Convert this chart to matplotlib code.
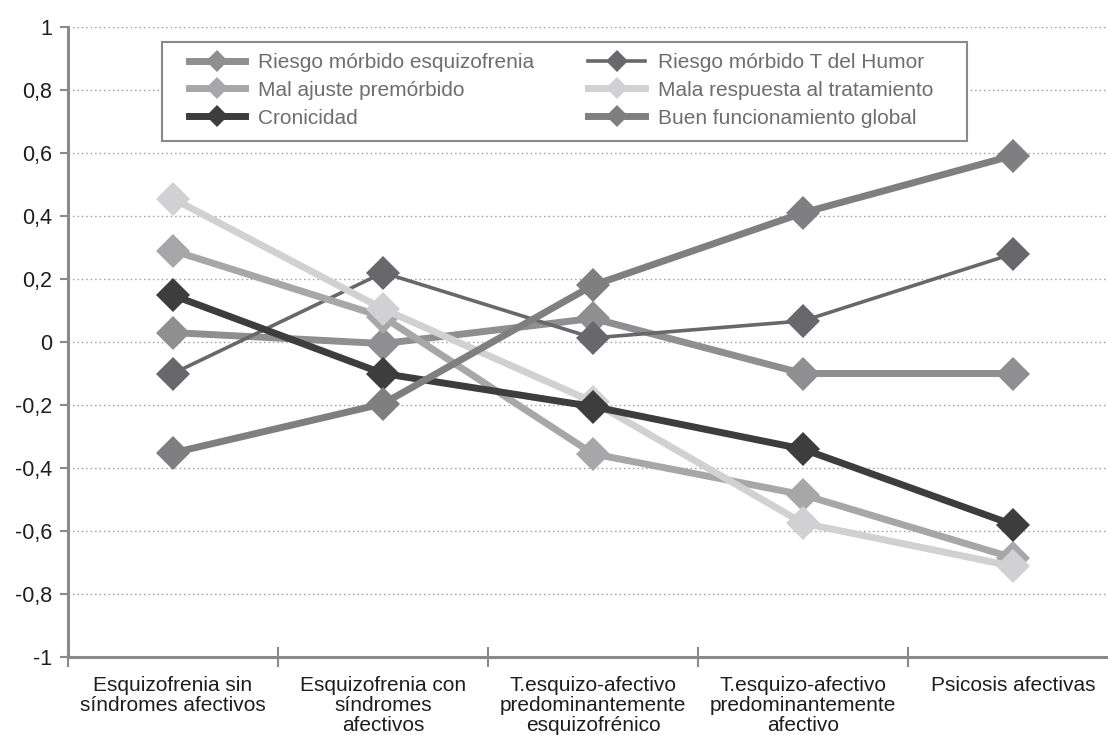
import matplotlib
matplotlib.use("Agg")
import matplotlib.pyplot as plt
from matplotlib.patches import Rectangle
from matplotlib.ticker import FixedLocator, NullFormatter, FuncFormatter

plt.rcParams['font.family'] = ['Liberation Sans', 'DejaVu Sans']

categories = [
    "Esquizofrenia sin\nsíndromes afectivos",
    "Esquizofrenia con\nsíndromes\nafectivos",
    "T.esquizo-afectivo\npredominantemente\nesquizofrénico",
    "T.esquizo-afectivo\npredominantemente\nafectivo",
    "Psicosis afectivas",
]

riesgo_esquizofrenia = [0.03, -0.005, 0.075, -0.10, -0.10]
mal_ajuste = [0.29, 0.08, -0.355, -0.485, -0.685]
cronicidad = [0.148, -0.10, -0.205, -0.34, -0.58]
riesgo_humor = [-0.10, 0.22, 0.013, 0.067, 0.28]
mala_respuesta = [0.455, 0.105, -0.19, -0.575, -0.712]
buen_funcionamiento = [-0.352, -0.196, 0.18, 0.41, 0.592]

y_ticks = [-1, -0.8, -0.6, -0.4, -0.2, 0, 0.2, 0.4, 0.6, 0.8, 1]

# (label, values, colour, line width, drawing order)
series = [
    ("Riesgo mórbido esquizofrenia", riesgo_esquizofrenia, "#8f8f91", 5.0, 3),
    ("Mal ajuste premórbido", mal_ajuste, "#a7a7a9", 5.0, 5),
    ("Cronicidad", cronicidad, "#3d3d3d", 5.0, 7),
    ("Riesgo mórbido T del Humor", riesgo_humor, "#68686c", 2.6, 4),
    ("Mala respuesta al tratamiento", mala_respuesta, "#d1d1d3", 5.0, 6),
    ("Buen funcionamiento global", buen_funcionamiento, "#7f7f81", 5.0, 8),
]


def fmt_tick(v, pos):
    if abs(v) < 1e-9:
        return "0"
    if abs(abs(v) - 1) < 1e-9:
        return str(int(round(v)))
    return f"{v:.1f}".replace(".", ",")


fig = plt.figure(figsize=(11.08, 7.35), dpi=100)
ax = fig.add_axes([68 / 1108, 78 / 735, 1050 / 1108, 630 / 735])

x = list(range(len(categories)))
for label, vals, color, lw, z in series:
    ax.plot(x, vals, color=color, lw=lw, marker="D", markersize=17,
            markeredgewidth=0, solid_joinstyle="miter", label=label, zorder=z)

ax.set_xlim(-0.5, len(categories) - 0.5)
ax.set_ylim(-1, 1)

ax.set_yticks(y_ticks)
ax.yaxis.set_major_formatter(FuncFormatter(fmt_tick))
ax.yaxis.grid(True, linestyle=(0, (1, 2.2)), color="#9a9a9a", lw=1.0)
ax.set_axisbelow(True)

ax.set_xticks(x)
ax.set_xticklabels(categories, fontsize=15, color="#1e1e1e", linespacing=1.05, va="top")
ax.xaxis.set_minor_locator(FixedLocator([i - 0.5 for i in range(len(categories) + 1)]))
ax.xaxis.set_minor_formatter(NullFormatter())
ax.tick_params(axis="x", which="major", length=0, pad=14)
ax.tick_params(axis="x", which="minor", length=14, width=1.5, color="#8a8a8a", direction="inout")
ax.tick_params(axis="y", length=6, width=1.5, color="#8a8a8a", labelsize=15.5,
               labelcolor="#1e1e1e", pad=5.5)

for side in ("top", "right"):
    ax.spines[side].set_visible(False)
for side in ("left", "bottom"):
    ax.spines[side].set_color("#8a8a8a")
    ax.spines[side].set_linewidth(2.2)

# legend box drawn separately so the frame can be sized independently of its entries
ax.add_patch(Rectangle((162 / 1108, 1 - 141 / 735), (967 - 162) / 1108, (141 - 42) / 735,
                       transform=fig.transFigure, clip_on=False, fill=True,
                       facecolor="white", edgecolor="#8a8a8a", lw=1.5, zorder=9))

leg = ax.legend(loc="upper left", bbox_to_anchor=(189 / 1108, 1 - 53 / 735),
                bbox_transform=fig.transFigure, ncol=2, fontsize=15, frameon=False,
                handlelength=2.7, handletextpad=0.62, markerscale=0.68,
                borderpad=0, labelspacing=0.42, columnspacing=2.6, borderaxespad=0)
leg.set_zorder(10)
for t in leg.get_texts():
    t.set_color("#6e6e6e")

fig.savefig("out.png", dpi=100)
